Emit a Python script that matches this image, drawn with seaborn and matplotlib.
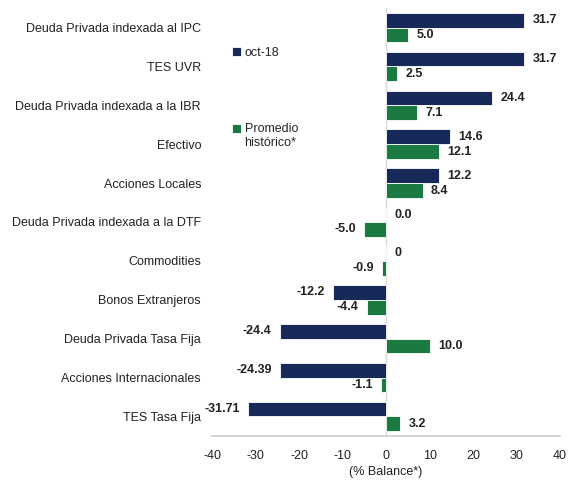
import seaborn as sns
import pandas as pd
import matplotlib
matplotlib.use("Agg")
import matplotlib.pyplot as plt

categories = [
    "Deuda Privada indexada al IPC",
    "TES UVR",
    "Deuda Privada indexada a la IBR",
    "Efectivo",
    "Acciones Locales",
    "Deuda Privada indexada a la DTF",
    "Commodities",
    "Bonos Extranjeros",
    "Deuda Privada Tasa Fija",
    "Acciones Internacionales",
    "TES Tasa Fija",
]
oct18 = [31.7, 31.7, 24.4, 14.6, 12.2, 0.0, 0.0, -12.2, -24.4, -24.39, -31.71]
promedio = [5.0, 2.5, 7.1, 12.1, 8.4, -5.0, -0.9, -4.4, 10.0, -1.1, 3.2]
oct18_labels = ["31.7", "31.7", "24.4", "14.6", "12.2", "0.0", "0", "-12.2", "-24.4", "-24.39", "-31.71"]
promedio_labels = ["5.0", "2.5", "7.1", "12.1", "8.4", "-5.0", "-0.9", "-4.4", "10.0", "-1.1", "3.2"]
series_names = ["oct-18", "Promedio\nhistórico*"]
xticks = [-40, -30, -20, -10, 0, 10, 20, 30, 40]

df = pd.DataFrame({
    "Categoria": categories * 2,
    "Valor": oct18 + promedio,
    "Serie": [series_names[0]] * len(categories) + [series_names[1]] * len(categories),
})

sns.set_theme(style="white")
plt.rcParams["font.family"] = ["Liberation Sans", "DejaVu Sans"]
plt.rcParams["font.size"] = 9

fig = plt.figure(figsize=(5.75, 4.8), dpi=100)
ax = fig.add_axes([0.369, 0.092, 0.605, 0.891])

sns.barplot(data=df, y="Categoria", x="Valor", hue="Serie", orient="h",
            palette=["#0B2463", "#0A8A3E"], width=0.76, ax=ax,
            edgecolor="white", linewidth=0.6)

for cont, labs in zip(ax.containers, [oct18_labels, promedio_labels]):
    ax.bar_label(cont, labels=labs, padding=6, fontweight="bold",
                 fontsize=9, color="#222222")

ax.set_xlim(-40, 40)
ax.set_ylim(10.5, -0.5)
ax.set_xticks(xticks)
ax.set_xticklabels([str(t) for t in xticks], fontsize=9, color="#222222")
ax.tick_params(axis="y", length=0, pad=8, labelsize=9, labelcolor="#222222")
ax.tick_params(axis="x", length=0, pad=10)
ax.set_ylabel("")
ax.set_xlabel("(% Balance*)", fontsize=9, color="#222222", labelpad=3)

for s in ["top", "right", "left"]:
    ax.spines[s].set_visible(False)
ax.spines["bottom"].set_color("#d0d0d0")
ax.axvline(0, color="#d9d9d9", linewidth=1, zorder=0)

leg = ax.legend(loc="upper left", bbox_to_anchor=(0.025, 0.935), frameon=False,
                handlelength=0.7, handleheight=0.7, handletextpad=0.3,
                labelspacing=5.1, fontsize=9)
# align the second square with the first line of its label
p = leg.get_patches()[1]
p.set_y(p.get_y() + 5.5)

fig.savefig("out.png", dpi=100)
